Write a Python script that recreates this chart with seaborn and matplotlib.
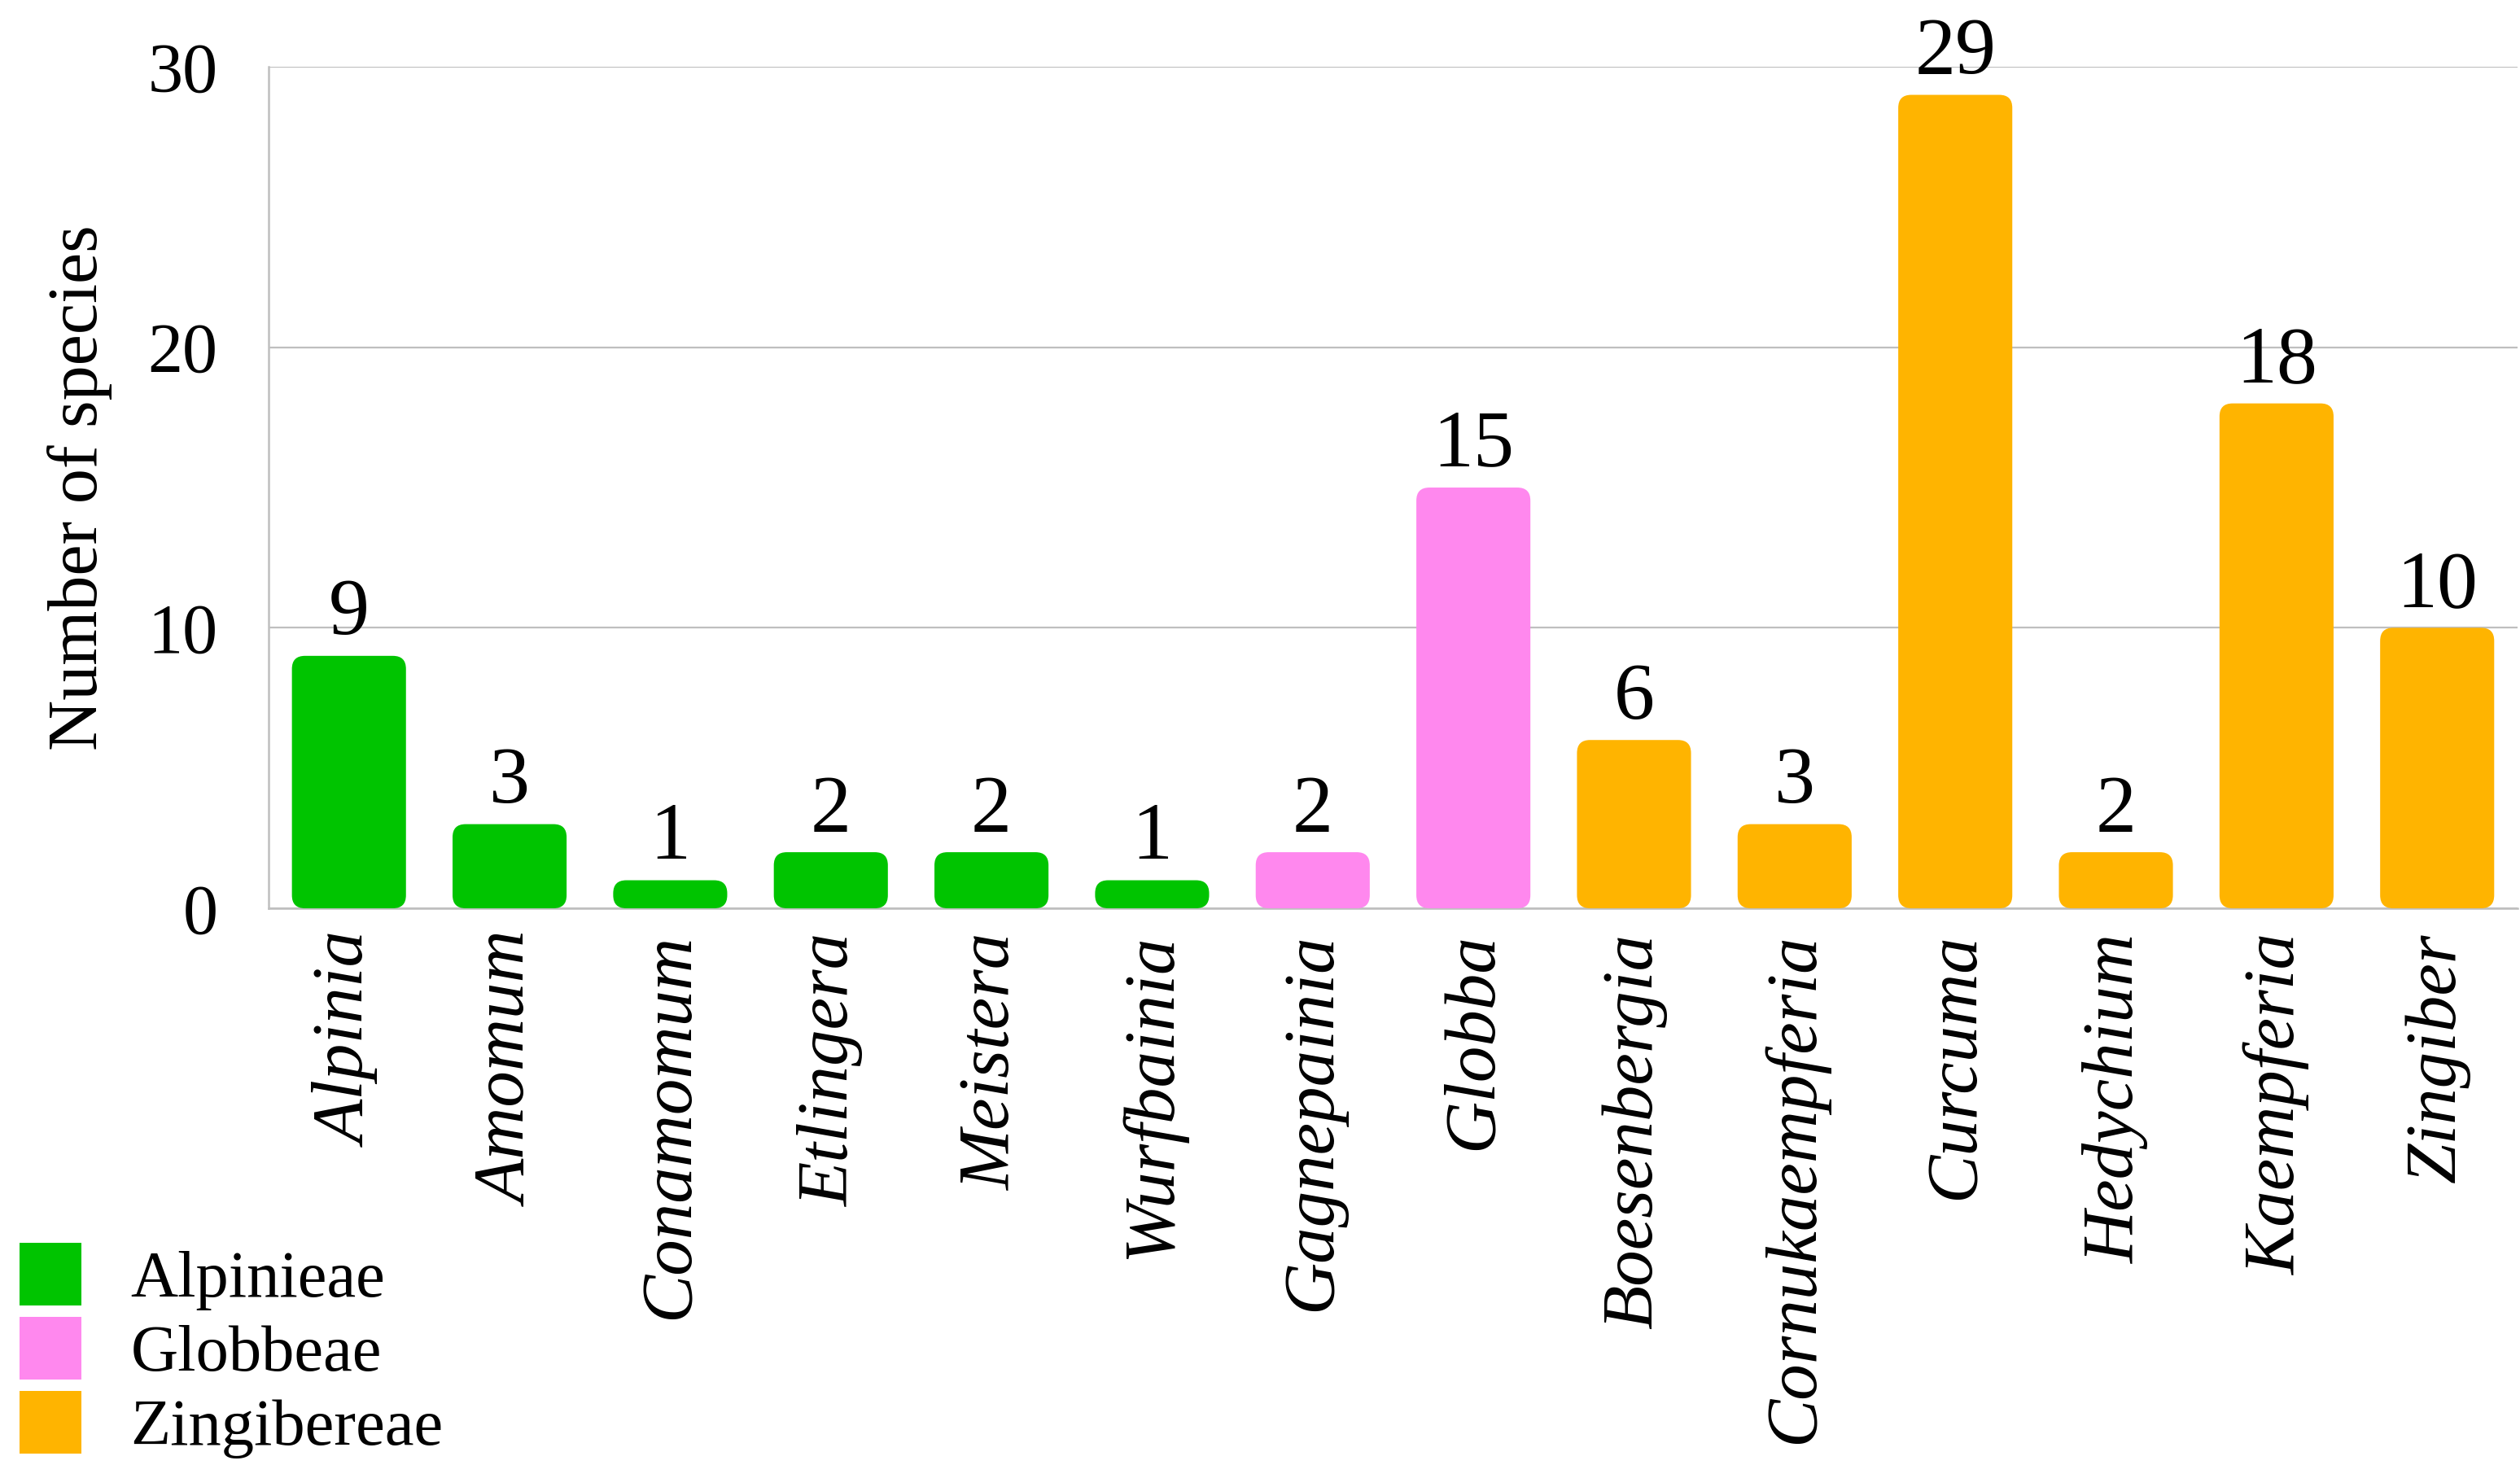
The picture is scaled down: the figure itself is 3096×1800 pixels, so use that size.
import pandas as pd
import numpy as np
import seaborn as sns
import matplotlib.pyplot as plt
from matplotlib.patches import FancyBboxPatch, Patch

# Data
genera = ['Alpinia', 'Amomum', 'Conamomum', 'Etlingera', 'Meistera', 'Wurfbainia',
          'Gagnepainia', 'Globba', 'Boesenbergia', 'Cornukaempferia', 'Curcuma',
          'Hedychium', 'Kaempferia', 'Zingiber']
species = [9, 3, 1, 2, 2, 1, 2, 15, 6, 3, 29, 2, 18, 10]
tribes = ['Alpinieae'] * 6 + ['Globbeae'] * 2 + ['Zingibereae'] * 6
tribe_names = ['Alpinieae', 'Globbeae', 'Zingibereae']
tribe_colors = ['#00c400', '#ff88ee', '#ffb400']

df = pd.DataFrame({'genus': genera, 'species': species, 'tribe': tribes})

sns.set_style('white')
plt.rcParams['font.family'] = ['Liberation Serif', 'DejaVu Serif']
plt.rcParams['text.color'] = 'black'
plt.rcParams['axes.labelcolor'] = 'black'
plt.rcParams['xtick.color'] = 'black'
plt.rcParams['ytick.color'] = 'black'

fig = plt.figure(figsize=(30.96, 18), dpi=100)
ax = fig.add_axes([0.1066, 0.38, 0.8924, 0.5744])

palette = dict(zip(tribe_names, tribe_colors))
sns.barplot(data=df, x='genus', y='species', hue='tribe', palette=palette,
            dodge=False, width=0.71, saturation=1, legend=False, ax=ax)

ax.set_xlim(-0.5, len(genera) - 0.5)
ax.set_ylim(0, 30)
ax.set_yticks([0, 10, 20, 30])

# value labels
for cont in ax.containers:
    ax.bar_label(cont, fmt='%d', padding=4, fontsize=72, color='black')

# swap plain bars for rounded ones (corner ~16 px)
x_px = ax.transData.transform((1, 0))[0] - ax.transData.transform((0, 0))[0]
y_px = ax.transData.transform((0, 1))[1] - ax.transData.transform((0, 0))[1]
r_px = 16
aspect = x_px / y_px
for p in list(ax.patches):
    h = p.get_height()
    if h <= 0:
        continue
    fb = FancyBboxPatch((p.get_x(), p.get_y()), p.get_width(), h,
                        boxstyle='round,pad=0,rounding_size=%f' % (r_px / x_px),
                        mutation_aspect=aspect,
                        facecolor=p.get_facecolor(), edgecolor='none', zorder=3)
    ax.add_patch(fb)
    p.set_visible(False)

# axes styling
ax.grid(axis='y', color='#bfbfbf', linewidth=1.6, zorder=0)
ax.set_axisbelow(True)
for side in ['top', 'right']:
    ax.spines[side].set_visible(False)
for side in ['left', 'bottom']:
    ax.spines[side].set_color('#bfbfbf')
    ax.spines[side].set_linewidth(1.8)

ax.tick_params(axis='y', length=0, pad=45, labelsize=62)
ax.tick_params(axis='x', length=0, pad=22)
ax.set_xticks(range(len(genera)))
ax.set_xticklabels(genera, rotation=90, fontstyle='italic', fontsize=64,
                   ha='center', va='top')
ax.set_xlabel('')
ax.set_ylabel('Number of species', fontsize=62, labelpad=31)

handles = [Patch(facecolor=c, edgecolor='none') for c in tribe_colors]
fig.legend(handles, tribe_names, loc='lower left', bbox_to_anchor=(0.005, 0.0),
           frameon=False, fontsize=58, handlelength=0.95, handleheight=1.1,
           handletextpad=0.75, labelspacing=0.1, borderaxespad=0, borderpad=0.1)

fig.savefig('out.png', dpi=100)
